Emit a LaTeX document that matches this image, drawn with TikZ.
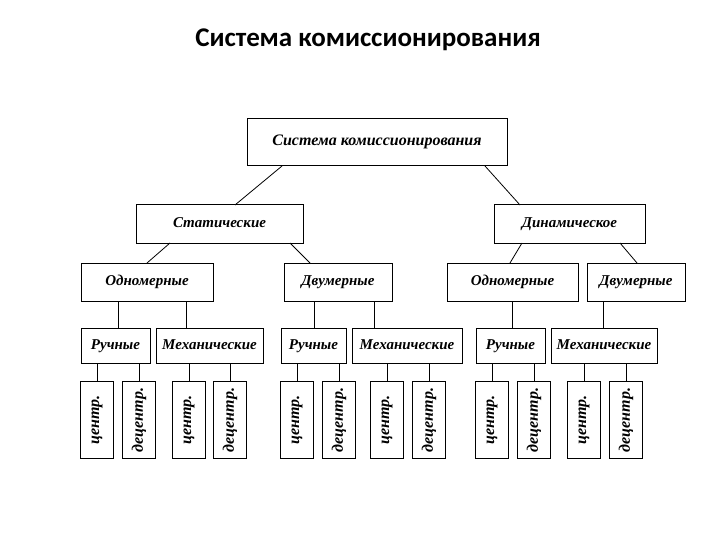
\documentclass[tikz,border=0pt]{standalone}
\usepackage{fontspec}
\setmainfont{Liberation Serif}
\newfontfamily\titlefont{Carlito}
\begin{document}
\begin{tikzpicture}[x=1pt,y=-1pt,
 bx/.style={draw,line width=1pt,fill=white,inner sep=0pt,text height=10pt,text depth=3pt,font=\bfseries\itshape\fontsize{15}{16}\selectfont},
 vb/.style={draw,line width=1pt,inner sep=0pt,minimum width=33pt,minimum height=77pt},
 vt/.style={rotate=90,inner sep=0pt,font=\bfseries\itshape\fontsize{16}{17}\selectfont},
 ln/.style={line width=0.8pt}]
\useasboundingbox (0,0) rectangle (720,540);
\node[font=\titlefont\bfseries\fontsize{27}{29}\selectfont] (title) at (368,40) {Система комиссионирования};
\newcommand\bb[6]{\node[bx,minimum width=#4-#2,minimum height=#5-#3] (#1) at ({(#2+#4)/2},{(#3+#5)/2}) {#6};}
\bb{top}{247}{119}{507}{166}{\fontsize{16}{17}\selectfont Система комиссионирования}
\bb{st}{136}{205}{303}{243}{Статические}
\bb{dy}{494}{205}{645}{243}{Динамическое}
\bb{o1}{81}{263}{213}{301}{Одномерные}
\bb{d1}{284}{263}{392}{301}{Двумерные}
\bb{o2}{447}{263}{578}{301}{Одномерные}
\bb{d2}{587}{263}{685}{301}{Двумерные}
\bb{r1}{81}{328}{150}{363}{Ручные}
\bb{m1}{156}{328}{263}{363}{Механические}
\bb{r2}{281}{328}{346}{363}{Ручные}
\bb{m2}{352}{328}{462}{363}{Механические}
\bb{r3}{476}{328}{545}{363}{Ручные}
\bb{m3}{551}{328}{657}{363}{Механические}
\foreach \n/\x/\t in {a1/97/центр.,a2/139/децентр.,a3/189/центр.,a4/230/децентр.,
 b1/297/центр.,b2/339/децентр.,b3/387/центр.,b4/429/децентр.,
 c1/492/центр.,c2/534/децентр.,c3/584/центр.,c4/626/децентр.}
 {\node[vb] (\n) at (\x,420) {};
  \node[vt] (\n t) at (\n.center) {\t};}
\draw[ln] (282,166) -- (235,205);
\draw[ln] (485,166) -- (520,205);
\draw[ln] (170,243) -- (147,263);
\draw[ln] (290,243) -- (310,263);
\draw[ln] (522,243) -- (510,263);
\draw[ln] (620,243) -- (637,263);
\foreach \x/\a/\b in {118/o1/r1,186/o1/m1,314/d1/r2,374/d1/m2,512/o2/r3,603/d2/m3}
 \draw[ln] (\a.south -| \x,0) -- (\b.north -| \x,0);
\foreach \p/\c in {r1/a1,r1/a2,m1/a3,m1/a4,r2/b1,r2/b2,m2/b3,m2/b4,r3/c1,r3/c2,m3/c3,m3/c4}
 \draw[ln] (\p.south -| \c.north) -- (\c.north);
\end{tikzpicture}
\end{document}
